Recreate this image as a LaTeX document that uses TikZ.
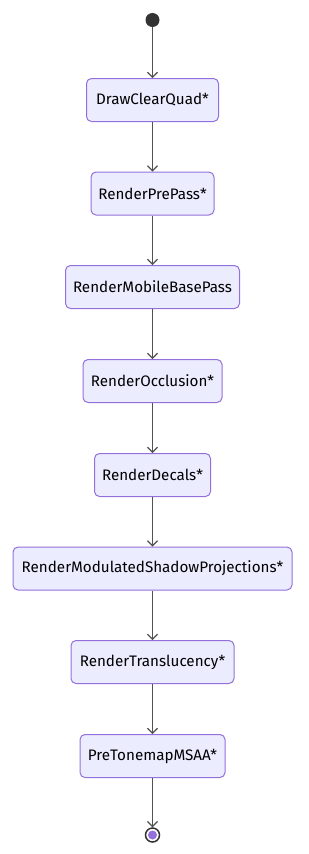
\documentclass[tikz,border=0pt]{standalone}
\usepackage{fontspec}
\setmainfont{Fira Sans}
\usetikzlibrary{arrows.meta}
\definecolor{nodefill}{HTML}{ECECFF}
\definecolor{nodeborder}{HTML}{9370DB}
\definecolor{linec}{HTML}{333333}
\begin{document}
\begin{tikzpicture}[x=1pt,y=-1pt,
  state/.style={draw=nodeborder, fill=nodefill, rounded corners=5pt, line width=1pt,
    minimum height=43pt, inner xsep=0pt, font=\fontsize{15.2pt}{18pt}\selectfont, text=black},
  flow/.style={draw=linec!85!white, line width=1.1pt, -{Straight Barb[length=5pt,width=10pt,line width=1.1pt]}}]
\useasboundingbox (0,0) rectangle (308,854);
\node[circle, fill=linec, minimum size=14pt, inner sep=0pt] (start) at (152.5,20) {};
\node[state, minimum width=132pt] (n1) at (152.5,100) {DrawClearQuad*};
\node[state, minimum width=123pt] (n2) at (152.5,193.5) {RenderPrePass*};
\node[state, minimum width=174pt] (n3) at (152.5,287) {RenderMobileBasePass};
\node[state, minimum width=139pt] (n4) at (152.5,381) {RenderOcclusion*};
\node[state, minimum width=116pt] (n5) at (152.5,475) {RenderDecals*};
\node[state, minimum width=279pt] (n6) at (152.5,568.5) {RenderModulatedShadowProjections*};
\node[state, minimum width=163pt] (n7) at (152.5,662) {RenderTranslucency*};
\node[state, minimum width=145pt] (n8) at (152.5,756) {PreTonemapMSAA*};
\node[circle, draw=linec, line width=1.5pt, fill=white, minimum size=14pt, inner sep=0pt] (end) at (152.5,835) {};
\fill[nodeborder] (end.center) circle (4.5pt);
\draw[flow] (start) -- (n1);
\draw[flow] (n1) -- (n2);
\draw[flow] (n2) -- (n3);
\draw[flow] (n3) -- (n4);
\draw[flow] (n4) -- (n5);
\draw[flow] (n5) -- (n6);
\draw[flow] (n6) -- (n7);
\draw[flow] (n7) -- (n8);
\draw[flow] (n8) -- (end);
\end{tikzpicture}
\end{document}
